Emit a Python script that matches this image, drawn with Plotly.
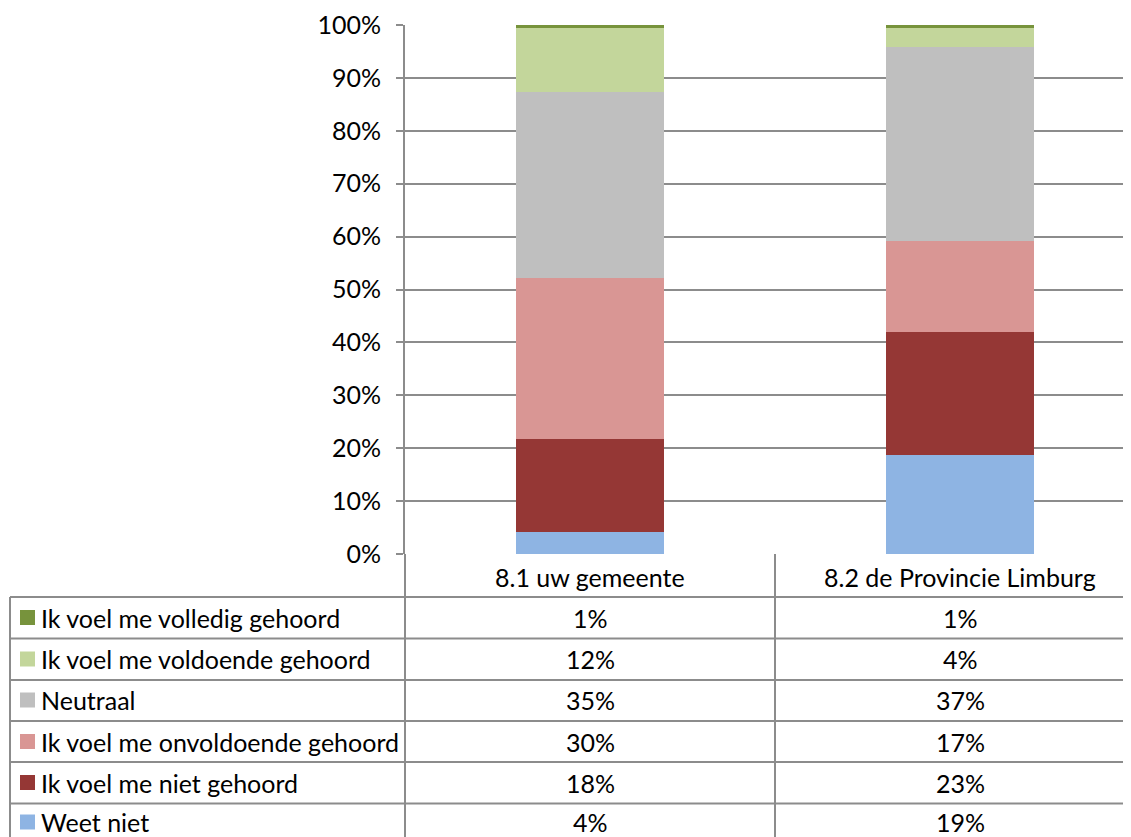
import plotly.graph_objects as go

categories = ["8.1 uw gemeente", "8.2 de Provincie Limburg"]
# series listed top row of table first
series_names = [
    "Ik voel me volledig gehoord",
    "Ik voel me voldoende gehoord",
    "Neutraal",
    "Ik voel me onvoldoende gehoord",
    "Ik voel me niet gehoord",
    "Weet niet",
]
series_values = [
    [0.6, 0.5],
    [12.1, 3.6],
    [35.1, 36.7],
    [30.5, 17.2],
    [17.5, 23.3],
    [4.2, 18.7],
]
table_labels = [
    ["1%", "1%"],
    ["12%", "4%"],
    ["35%", "37%"],
    ["30%", "17%"],
    ["18%", "23%"],
    ["4%", "19%"],
]
colors = ["#77933C", "#C3D69B", "#BFBFBF", "#D99694", "#953735", "#8EB4E3"]
y_ticks = [0, 10, 20, 30, 40, 50, 60, 70, 80, 90, 100]
y_tick_text = [f"{t}%" for t in y_ticks]

OFF = 8  # page body margin
W, H = 1131 - OFF, 837 - OFF
L, T = 405 - OFF, 25 - OFF
B = H - (554 - OFF)
plot_w = W - L
plot_h = H - T - B
FONT = "Lato"
FS = 25
LINE = "#8c8c8c"

fig = go.Figure()
xs = list(range(len(categories)))
for name, vals, col in reversed(list(zip(series_names, series_values, colors))):
    fig.add_trace(go.Bar(x=xs, y=vals, name=name, marker=dict(color=col, line=dict(width=0)),
                         width=0.4, showlegend=False))

def px_x(p):
    return (p - OFF - L) / plot_w

def px_y(p):
    return (T + plot_h - (p - OFF)) / plot_h

shapes = []
row_lines = [597, 638.5, 680, 721, 762, 803.5]
for rl in row_lines:
    shapes.append(dict(type="line", xref="paper", yref="paper", x0=px_x(10), x1=px_x(1140),
                       y0=px_y(rl), y1=px_y(rl), line=dict(color=LINE, width=2)))
shapes.append(dict(type="line", xref="paper", yref="paper", x0=px_x(10), x1=px_x(10),
                   y0=px_y(597), y1=px_y(840), line=dict(color=LINE, width=2)))
for vx in [405, 775]:
    shapes.append(dict(type="line", xref="paper", yref="paper", x0=px_x(vx), x1=px_x(vx),
                       y0=px_y(554), y1=px_y(840), line=dict(color=LINE, width=2)))

annotations = []
row_centers = [617.5, 659, 700, 741.5, 782.5, 822]
for i, (name, col) in enumerate(zip(series_names, colors)):
    yc = row_centers[i]
    shapes.append(dict(type="rect", xref="paper", yref="paper", x0=px_x(20), x1=px_x(35),
                       y0=px_y(yc + 7.5), y1=px_y(yc - 7.5), fillcolor=col, line=dict(width=0)))
    annotations.append(dict(text=name, xref="paper", yref="paper", x=px_x(39), y=px_y(yc),
                            xanchor="left", yanchor="middle", showarrow=False,
                            font=dict(family=FONT, size=FS, color="#000")))
    for j in range(len(categories)):
        annotations.append(dict(text=table_labels[i][j], xref="x", yref="paper", x=xs[j], y=px_y(yc),
                                xanchor="center", yanchor="middle", showarrow=False,
                                font=dict(family=FONT, size=FS, color="#000")))
for j, c in enumerate(categories):
    annotations.append(dict(text=c, xref="x", yref="paper", x=xs[j], y=px_y(577),
                            xanchor="center", yanchor="middle", showarrow=False,
                            font=dict(family=FONT, size=FS, color="#000")))

fig.update_layout(
    width=W, height=H,
    margin=dict(l=L, r=0, t=T, b=B),
    plot_bgcolor="white", paper_bgcolor="white",
    barmode="stack",
    shapes=shapes,
    annotations=annotations,
    font=dict(family=FONT, size=FS, color="#000"),
    xaxis=dict(range=[-0.5, -0.5 + plot_w / 370], showticklabels=False, showgrid=False,
               zeroline=False, showline=False, fixedrange=True),
    yaxis=dict(range=[0, 100], tickvals=y_ticks, ticktext=y_tick_text, showgrid=True,
               gridcolor=LINE, gridwidth=2, showline=True, linecolor=LINE, linewidth=2,
               ticks="outside", ticklen=7, tickcolor=LINE, tickwidth=2, zeroline=False,
               ticklabelstandoff=10, tickfont=dict(family=FONT, size=FS, color="#000")),
)

fig.write_html("out.html")
